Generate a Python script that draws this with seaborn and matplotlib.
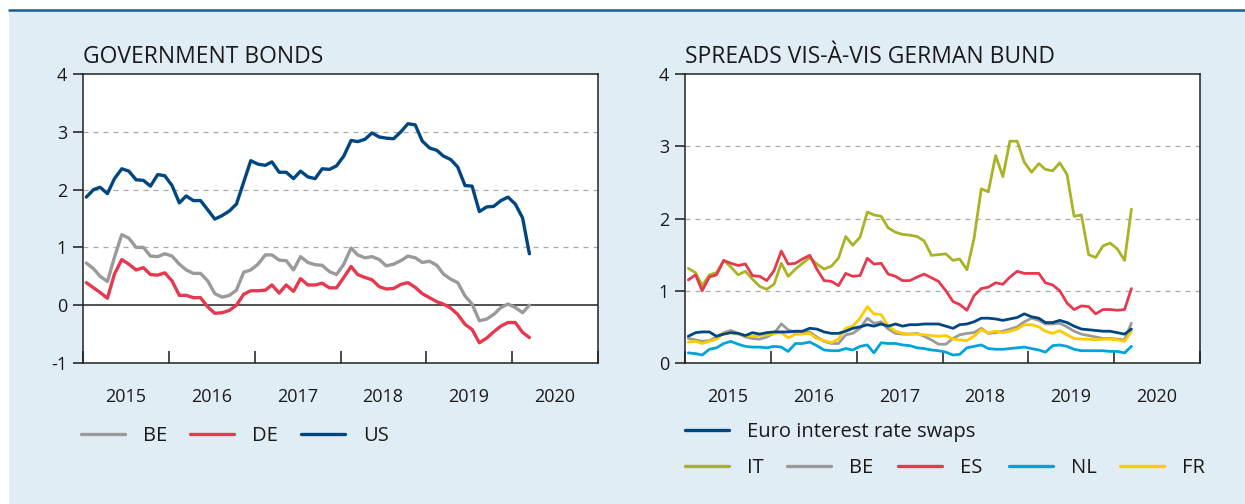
import matplotlib
matplotlib.use('Agg')
import matplotlib.pyplot as plt
import matplotlib.dates as mdates
from matplotlib.ticker import NullFormatter
from matplotlib.lines import Line2D
from matplotlib.patches import Rectangle
import seaborn as sns
import pandas as pd

# monthly observations, Jan 2015 - Mar 2020
months = pd.date_range('2015-01-01', periods=63, freq='MS') + pd.Timedelta(days=14)

# government bond yields (%)
us = [1.87, 2.00, 2.04, 1.93, 2.19, 2.36, 2.32, 2.17, 2.16, 2.06,
      2.26, 2.24, 2.07, 1.77, 1.89, 1.81, 1.81, 1.65, 1.49, 1.55,
      1.63, 1.75, 2.13, 2.50, 2.44, 2.42, 2.48, 2.30, 2.30, 2.19,
      2.32, 2.22, 2.19, 2.36, 2.35, 2.41, 2.58, 2.85, 2.83, 2.87,
      2.98, 2.91, 2.89, 2.88, 3.00, 3.14, 3.12, 2.84, 2.72, 2.68,
      2.58, 2.52, 2.39, 2.07, 2.06, 1.62, 1.70, 1.71, 1.81, 1.87,
      1.75, 1.51, 0.89]
be = [0.73, 0.63, 0.50, 0.41, 0.83, 1.22, 1.16, 1.00, 1.00, 0.85,
      0.84, 0.89, 0.85, 0.71, 0.61, 0.55, 0.55, 0.42, 0.20, 0.14,
      0.17, 0.26, 0.57, 0.61, 0.71, 0.87, 0.87, 0.78, 0.77, 0.61,
      0.84, 0.74, 0.70, 0.69, 0.58, 0.53, 0.71, 0.99, 0.87, 0.82,
      0.84, 0.79, 0.68, 0.71, 0.77, 0.85, 0.82, 0.74, 0.76, 0.69,
      0.54, 0.45, 0.39, 0.16, 0.02, -0.27, -0.24, -0.16, -0.04, 0.02,
      -0.04, -0.13, 0.00]
de = [0.39, 0.30, 0.22, 0.12, 0.54, 0.79, 0.71, 0.61, 0.65, 0.53,
      0.52, 0.56, 0.42, 0.17, 0.17, 0.13, 0.13, -0.03, -0.14, -0.13,
      -0.09, 0.00, 0.19, 0.25, 0.25, 0.26, 0.35, 0.21, 0.35, 0.24,
      0.46, 0.35, 0.35, 0.38, 0.30, 0.30, 0.48, 0.67, 0.53, 0.48,
      0.44, 0.32, 0.28, 0.29, 0.36, 0.39, 0.31, 0.20, 0.13, 0.06,
      0.02, -0.05, -0.16, -0.33, -0.42, -0.65, -0.57, -0.46, -0.36, -0.30,
      -0.30, -0.47, -0.56]

# spreads vis-a-vis German Bund (pp)
it = [1.31, 1.25, 1.07, 1.22, 1.25, 1.42, 1.33, 1.22, 1.27, 1.16,
      1.06, 1.02, 1.09, 1.38, 1.20, 1.30, 1.38, 1.46, 1.37, 1.30,
      1.34, 1.45, 1.75, 1.63, 1.74, 2.09, 2.05, 2.03, 1.87, 1.81,
      1.78, 1.77, 1.75, 1.69, 1.49, 1.50, 1.51, 1.42, 1.44, 1.29,
      1.72, 2.41, 2.37, 2.87, 2.58, 3.07, 3.07, 2.78, 2.64, 2.76,
      2.68, 2.66, 2.77, 2.61, 2.03, 2.05, 1.50, 1.46, 1.62, 1.66,
      1.58, 1.42, 2.13]
es = [1.15, 1.22, 1.00, 1.19, 1.22, 1.42, 1.38, 1.35, 1.37, 1.21,
      1.20, 1.14, 1.28, 1.55, 1.37, 1.38, 1.44, 1.49, 1.30, 1.14,
      1.13, 1.07, 1.24, 1.20, 1.21, 1.45, 1.37, 1.38, 1.23, 1.20,
      1.14, 1.14, 1.19, 1.23, 1.18, 1.13, 1.00, 0.85, 0.81, 0.73,
      0.93, 1.03, 1.05, 1.11, 1.09, 1.19, 1.27, 1.24, 1.24, 1.24,
      1.11, 1.08, 1.00, 0.83, 0.74, 0.79, 0.78, 0.68, 0.74, 0.74,
      0.73, 0.74, 1.03]
be_spread = [0.34, 0.32, 0.30, 0.31, 0.36, 0.42, 0.45, 0.41, 0.36, 0.34,
             0.33, 0.36, 0.41, 0.54, 0.46, 0.42, 0.42, 0.43, 0.36, 0.30,
             0.27, 0.27, 0.39, 0.41, 0.48, 0.62, 0.55, 0.57, 0.47, 0.41,
             0.40, 0.40, 0.41, 0.37, 0.32, 0.26, 0.26, 0.34, 0.39, 0.41,
             0.42, 0.48, 0.41, 0.42, 0.44, 0.47, 0.50, 0.57, 0.62, 0.59,
             0.54, 0.54, 0.55, 0.50, 0.44, 0.40, 0.38, 0.36, 0.34, 0.34,
             0.33, 0.32, 0.55]
nl = [0.14, 0.13, 0.11, 0.19, 0.21, 0.27, 0.30, 0.26, 0.23, 0.22,
      0.22, 0.21, 0.23, 0.22, 0.16, 0.27, 0.27, 0.29, 0.24, 0.18,
      0.17, 0.17, 0.20, 0.18, 0.23, 0.25, 0.14, 0.28, 0.27, 0.27,
      0.25, 0.24, 0.21, 0.20, 0.18, 0.17, 0.15, 0.11, 0.12, 0.21,
      0.23, 0.25, 0.20, 0.19, 0.19, 0.20, 0.21, 0.22, 0.20, 0.18,
      0.15, 0.24, 0.25, 0.23, 0.19, 0.17, 0.17, 0.17, 0.17, 0.16,
      0.16, 0.14, 0.23]
fr = [0.29, 0.30, 0.27, 0.30, 0.33, 0.41, 0.42, 0.40, 0.38, 0.37,
      0.38, 0.39, 0.41, 0.42, 0.35, 0.40, 0.40, 0.41, 0.34, 0.31,
      0.28, 0.33, 0.48, 0.51, 0.62, 0.78, 0.68, 0.67, 0.51, 0.44,
      0.41, 0.40, 0.40, 0.39, 0.38, 0.37, 0.38, 0.33, 0.32, 0.31,
      0.37, 0.46, 0.42, 0.44, 0.42, 0.44, 0.47, 0.53, 0.53, 0.50,
      0.44, 0.41, 0.45, 0.39, 0.34, 0.33, 0.33, 0.32, 0.33, 0.33,
      0.32, 0.30, 0.44]
swaps = [0.37, 0.42, 0.43, 0.43, 0.37, 0.40, 0.42, 0.41, 0.38, 0.42,
         0.40, 0.42, 0.43, 0.43, 0.43, 0.44, 0.44, 0.48, 0.47, 0.43,
         0.41, 0.41, 0.44, 0.48, 0.50, 0.53, 0.51, 0.54, 0.51, 0.54,
         0.51, 0.53, 0.53, 0.54, 0.54, 0.54, 0.51, 0.48, 0.53, 0.54,
         0.57, 0.62, 0.62, 0.61, 0.59, 0.61, 0.63, 0.68, 0.64, 0.62,
         0.56, 0.56, 0.59, 0.56, 0.51, 0.47, 0.46, 0.45, 0.44, 0.44,
         0.42, 0.40, 0.47]

DARKBLUE = '#004681'
RED = '#e6394f'
GREY = '#9a9a9a'
colors_left = {'BE': GREY, 'DE': RED, 'US': DARKBLUE}
colors_right = {'IT': '#a9b323', 'BE': GREY, 'ES': RED, 'NL': '#00a4dc',
                'FR': '#fdcb00', 'Euro interest rate swaps': DARKBLUE}

sns.set_style('ticks')
plt.rcParams['font.family'] = ['Open Sans', 'DejaVu Sans']
plt.rcParams['axes.unicode_minus'] = False
plt.rcParams['text.color'] = '#1a1a1a'
plt.rcParams['xtick.color'] = '#1a1a1a'
plt.rcParams['ytick.color'] = '#1a1a1a'

W, H = 1245, 504
fig = plt.figure(figsize=(W / 100, H / 100), dpi=100)
fig.patch.set_facecolor('white')
fig.add_artist(Rectangle((9 / W, 0), 1 - 9 / W, 1 - 11 / H, transform=fig.transFigure,
                         facecolor='#e1edf5', edgecolor='none', zorder=-10))
fig.add_artist(Line2D([9 / W, 1], [1 - 10 / H, 1 - 10 / H], transform=fig.transFigure,
                      color='#1d5a96', lw=1.8, zorder=-9))

ax1 = fig.add_axes([83 / W, 1 - 363 / H, 515 / W, 289 / H])
ax2 = fig.add_axes([685 / W, 1 - 363 / H, 515 / W, 289 / H])

gov = pd.DataFrame({'date': months, 'BE': be, 'DE': de, 'US': us})
gov = gov.melt('date', var_name='series', value_name='value')
sns.lineplot(data=gov, x='date', y='value', hue='series', hue_order=['BE', 'DE', 'US'],
             palette=colors_left, lw=2.4, legend=False, ax=ax1, zorder=3)

spr = pd.DataFrame({'date': months, 'IT': it, 'BE': be_spread, 'ES': es, 'NL': nl,
                    'FR': fr, 'Euro interest rate swaps': swaps})
spr = spr.melt('date', var_name='series', value_name='value')
sns.lineplot(data=spr, x='date', y='value', hue='series',
             hue_order=['IT', 'ES', 'NL', 'BE', 'FR', 'Euro interest rate swaps'],
             palette=colors_right, lw=2.0, legend=False, ax=ax2, zorder=3)


def style_axis(ax, ylo, yhi, title):
    ax.set_facecolor('white')
    ax.set_xlim(pd.Timestamp('2015-01-01'), pd.Timestamp('2021-01-01'))
    ax.set_ylim(ylo, yhi)
    ax.set_yticks(range(ylo, yhi + 1))
    ax.xaxis.set_major_locator(mdates.YearLocator())
    ax.xaxis.set_major_formatter(NullFormatter())
    ax.xaxis.set_minor_locator(mdates.MonthLocator(bymonth=7, bymonthday=1))
    ax.xaxis.set_minor_formatter(mdates.DateFormatter('%Y'))
    ax.tick_params(axis='x', which='major', direction='in', length=8.6, width=1.1)
    ax.tick_params(axis='x', which='minor', length=0, pad=18, labelsize=13)
    ax.tick_params(axis='y', direction='out', length=7.5, width=1.1, pad=4, labelsize=13)
    for s in ax.spines.values():
        s.set_visible(True)
        s.set_linewidth(1.1)
        s.set_color('#222222')
    for v in range(ylo + 1, yhi):
        if v != 0:
            ax.axhline(v, color='#a8a8a8', lw=0.9, ls=(0, (4, 4)), zorder=1)
    ax.set_xlabel('')
    ax.set_ylabel('')
    ax.set_title(title, loc='left', fontsize=16.5, pad=8, color='#1a1a1a')


style_axis(ax1, -1, 4, 'GOVERNMENT BONDS')
ax1.axhline(0, color='#222222', lw=1.1, zorder=2)
style_axis(ax2, 0, 4, 'SPREADS VIS-À-VIS GERMAN BUND')


def legend_entry(label, color, x_px, y_px):
    fig.legend(handles=[Line2D([], [], color=color, lw=2.4)], labels=[label],
               loc='center left', bbox_to_anchor=(x_px / W, 1 - y_px / H),
               frameon=False, borderpad=0, borderaxespad=0,
               handlelength=2.2, handletextpad=0.9, fontsize=14.5)


for lab, xp in [('BE', 81), ('DE', 190), ('US', 301)]:
    legend_entry(lab, colors_left[lab], xp, 436)

legend_entry('Euro interest rate swaps', DARKBLUE, 685, 432)
for lab, xp in [('IT', 685), ('BE', 787), ('ES', 898), ('NL', 1009), ('FR', 1120)]:
    legend_entry(lab, colors_right[lab], xp, 468)

fig.savefig('out.png', dpi=100)
